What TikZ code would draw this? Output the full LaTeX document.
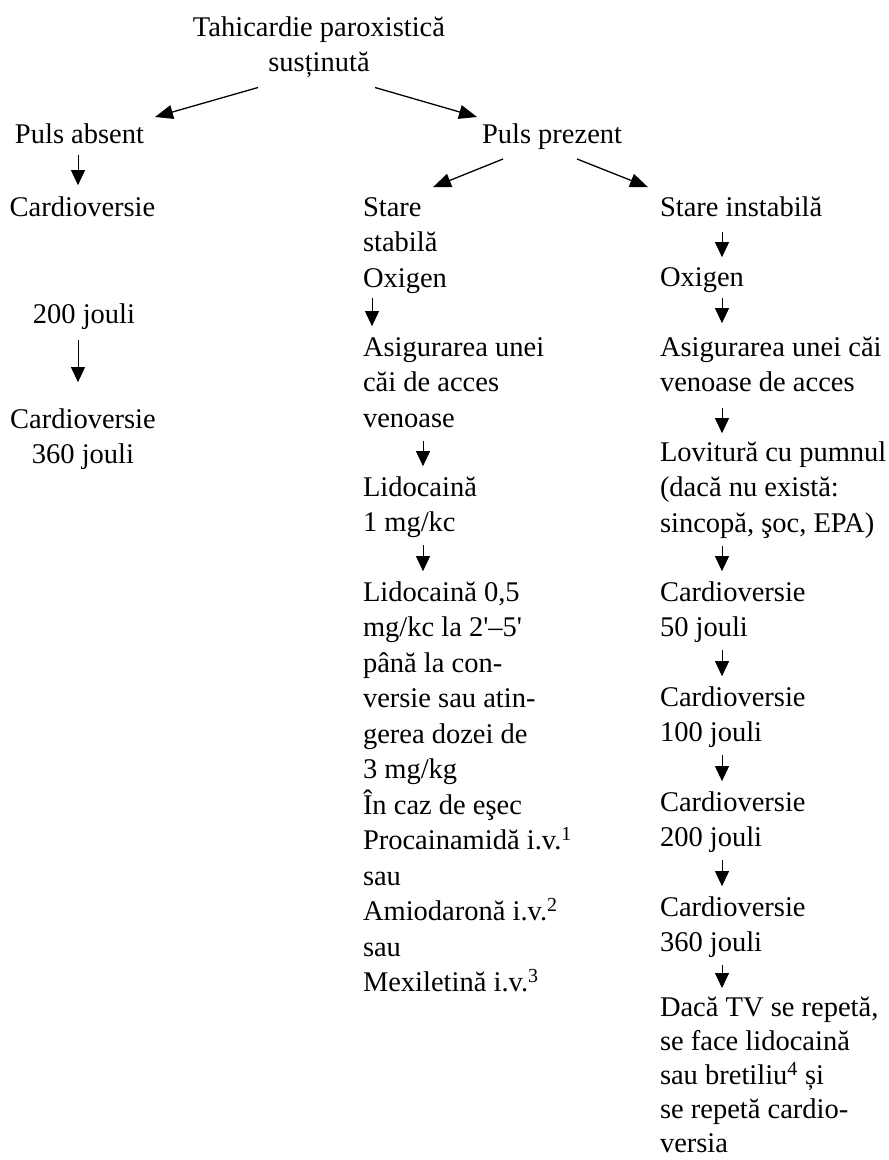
\documentclass[tikz,border=0pt]{standalone}
\usepackage{fontspec}
\setmainfont{Liberation Serif}
\usetikzlibrary{arrows.meta}
\tikzset{
  txt/.style={inner sep=0pt, outer sep=0pt, anchor=north west, align=left,
    font=\fontsize{28.5}{35.5}\selectfont},
  txtc/.style={txt, anchor=north, align=center},
  arr/.style={line width=0.8pt, -{Triangle[width=14pt,length=15pt]},
    shorten <=3pt, shorten >=5pt},
  bigarr/.style={line width=1.3pt, -{Triangle[width=14pt,length=18pt]}}
}
\begin{document}
\begin{tikzpicture}[x=1pt,y=-1pt]
\useasboundingbox (0,0) rectangle (889,1160);
% columns for vertical arrows
\coordinate (cl) at (78,0);
\coordinate (cm1) at (372,0);
\coordinate (cm) at (423,0);
\coordinate (cr) at (722,0);
% title
\node[txtc] (title) at (319,11.15) {\strut Tahicardie paroxistică\\susținută\strut};
% level 2
\node[txt] (pa) at (15,118.15) {\strut Puls absent\strut};
\node[txt] (pp) at (482,118.15) {\strut Puls prezent\strut};
% left column
\node[txtc] (cv1) at (82.5,191.15) {\strut Cardioversie\strut};
\node[txtc] (j200) at (84,298.15) {\strut 200 jouli\strut};
\node[txtc] (cv2) at (83,403.15) {\strut Cardioversie\\360 jouli\strut};
% middle column
\node[txt] (ss) at (363,191.15) {\strut Stare\\stabilă\\Oxigen\strut};
\node[txt] (m2) at (363,331.15) {\strut Asigurarea unei\\căi de acces\\venoase\strut};
\node[txt] (m3) at (363,471.15) {\strut Lidocaină\\1 mg/kc\strut};
\node[txt] (m4) at (363,576.15) {\strut Lidocaină 0,5\\mg/kc la 2\textquotesingle--5\textquotesingle\\până la con-\\versie sau atin-\\gerea dozei de\\3 mg/kg\\În caz de eşec\\Procainamidă i.v.\textsuperscript{1}\\sau\\Amiodaronă i.v.\textsuperscript{2}\\sau\\Mexiletină i.v.\textsuperscript{3}\strut};
% right column
\node[txt] (si) at (660,191.15) {\strut Stare instabilă\strut};
\node[txt] (r1) at (660,261.15) {\strut Oxigen\strut};
\node[txt] (r2) at (660,331.15) {\strut Asigurarea unei căi\\venoase de acces\strut};
\node[txt] (r3) at (660,436.15) {\strut Lovitură cu pumnul\\(dacă nu există:\\sincopă, şoc, EPA)\strut};
\node[txt] (r4) at (660,576.15) {\strut Cardioversie\\50 jouli\strut};
\node[txt] (r5) at (660,681.15) {\strut Cardioversie\\100 jouli\strut};
\node[txt] (r6) at (660,786.15) {\strut Cardioversie\\200 jouli\strut};
\node[txt] (r7) at (660,891.15) {\strut Cardioversie\\360 jouli\strut};
\node[txt, font=\fontsize{28.5}{34}\selectfont] (r8) at (660,993) {\strut Dacă TV se repetă,\\se face lidocaină\\sau bretiliu\textsuperscript{4} și\\se repetă cardio-\\versia\strut};
% diagonal arrows
\draw[bigarr] ([xshift=-61pt,yshift=-5.35pt]title.south) -- ([xshift=75.5pt,yshift=1.15pt]pa.north);
\draw[bigarr] ([xshift=56pt,yshift=-5.35pt]title.south) -- ([xshift=-5pt,yshift=1.15pt]pp.north west);
\draw[bigarr] ([xshift=-49pt,yshift=-5.35pt]pp.south) -- ([xshift=70pt,yshift=4pt]ss.north west);
\draw[bigarr] ([xshift=25pt,yshift=-5.35pt]pp.south) -- ([xshift=-12pt,yshift=4pt]si.north west);
% left arrows
\draw[arr, shorten <=1.5pt, shorten >=6pt] (pa.south -| cl) -- (cv1.north -| cl);
\draw[arr, shorten <=6pt, shorten >=21pt] (j200.south -| cl) -- (cv2.north -| cl);
% middle arrows
\draw[arr, shorten <=0pt] (ss.south -| cm1) -- (m2.north -| cm1);
\draw[arr] (m2.south -| cm) -- (m3.north -| cm);
\draw[arr] (m3.south -| cm) -- (m4.north -| cm);
% right arrows
\draw[arr, shorten <=5pt, shorten >=4pt] (si.south -| cr) -- (r1.north -| cr);
\draw[arr, shorten <=1.5pt, shorten >=8pt] (r1.south -| cr) -- (r2.north -| cr);
\draw[arr, shorten <=6pt, shorten >=3pt] (r2.south -| cr) -- (r3.north -| cr);
\draw[arr] (r3.south -| cr) -- (r4.north -| cr);
\draw[arr] (r4.south -| cr) -- (r5.north -| cr);
\draw[arr] (r5.south -| cr) -- (r6.north -| cr);
\draw[arr] (r6.south -| cr) -- (r7.north -| cr);
\draw[arr] (r7.south -| cr) -- (r8.north -| cr);
\end{tikzpicture}
\end{document}
